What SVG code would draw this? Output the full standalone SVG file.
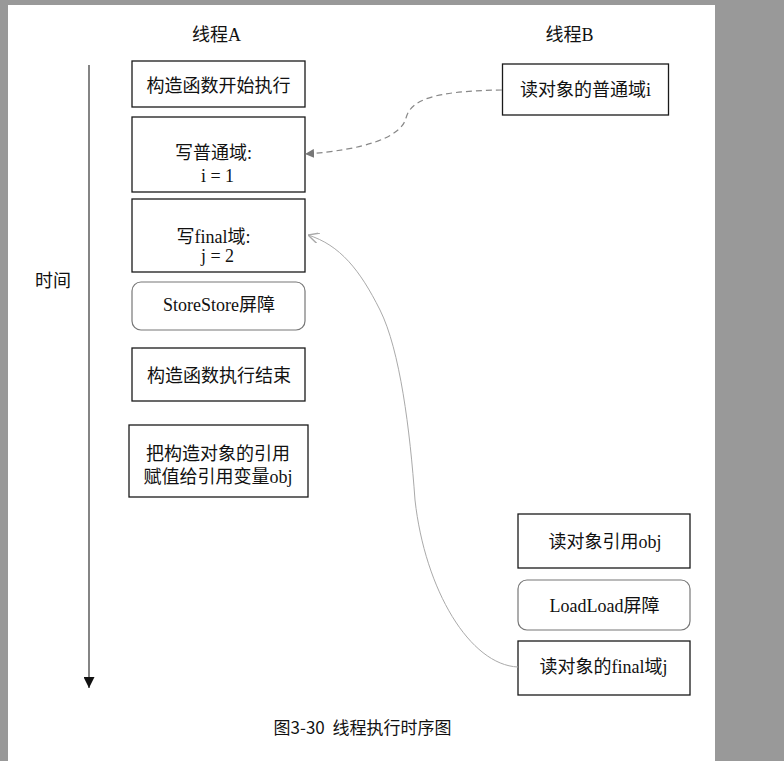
<svg xmlns="http://www.w3.org/2000/svg" width="784" height="761" viewBox="0 0 784 761">
<style>
.t{font-family:"Liberation Serif","Noto Sans CJK SC",serif;font-size:18px;fill:#111;text-anchor:middle}
.cap{font-family:"Noto Sans CJK SC","Liberation Sans",sans-serif;font-size:17px;fill:#111;text-anchor:middle;white-space:pre}
.box{fill:#fff;stroke:#1a1a1a;stroke-width:1.3}
.rbox{fill:#fff;stroke:#777;stroke-width:1.2}
</style>
<defs>
<marker id="tri" viewBox="0 0 10 10" refX="9" refY="5" markerWidth="9" markerHeight="9" markerUnits="userSpaceOnUse" orient="auto"><path d="M0,0 L10,5 L0,10 z" fill="#777"/></marker>
<marker id="vee" viewBox="0 0 10 10" refX="10" refY="5" markerWidth="11" markerHeight="11" markerUnits="userSpaceOnUse" orient="auto"><path d="M0,0 L10,5 L0,10" fill="none" stroke="#aaa" stroke-width="1.3"/></marker>
<marker id="down" viewBox="0 0 10 10" refX="10" refY="5" markerWidth="11" markerHeight="11" markerUnits="userSpaceOnUse" orient="auto"><path d="M0,0 L10,5 L0,10 z" fill="#111"/></marker>
</defs>
<rect x="0" y="0" width="784" height="761" fill="#999"/>
<rect x="8" y="5" width="707" height="756" fill="#fff"/>

<g id="headers">
<text class="t" x="216.5" y="41">线程A</text>
<text class="t" x="569.5" y="41">线程B</text>
<text class="t" x="53" y="287">时间</text>
</g>

<g id="timeline">
<line x1="89" y1="65" x2="89" y2="688" stroke="#333" stroke-width="1.2" marker-end="url(#down)"/>
</g>

<g id="a1"><rect class="box" x="132" y="61" width="173" height="46"/><text class="t" x="218.5" y="92">构造函数开始执行</text></g>
<g id="a2"><rect class="box" x="132" y="117" width="173" height="75"/><text class="t" x="213.5" y="159">写普通域:</text><text class="t" x="217.5" y="182">i = 1</text></g>
<g id="a3"><rect class="box" x="132" y="199" width="173" height="73"/><text class="t" x="213.5" y="243">写final域:</text><text class="t" x="217.5" y="262">j = 2</text></g>
<g id="a4"><rect class="rbox" x="132" y="282" width="173" height="48" rx="9"/><text class="t" x="219" y="311">StoreStore屏障</text></g>
<g id="a5"><rect class="box" x="132" y="348" width="173" height="53"/><text class="t" x="219" y="382">构造函数执行结束</text></g>
<g id="a6"><rect class="box" x="129" y="425" width="179" height="72"/><text class="t" x="218" y="460">把构造对象的引用</text><text class="t" x="218" y="483">赋值给引用变量obj</text></g>

<g id="b1"><rect class="box" x="502.5" y="64" width="166" height="51"/><text class="t" x="585.5" y="96">读对象的普通域i</text></g>
<g id="b2"><rect class="box" x="518" y="514" width="172" height="54"/><text class="t" x="605" y="548">读对象引用obj</text></g>
<g id="b3"><rect class="rbox" x="518" y="580" width="172" height="50" rx="9"/><text class="t" x="604.5" y="612">LoadLoad屏障</text></g>
<g id="b4"><rect class="box" x="518" y="641" width="172" height="54"/><text class="t" x="603.5" y="673">读对象的final域j</text></g>

<g id="connectors">
<path d="M502,90 C432,91 411,100 406,118 C401,138 362,150 306,154" fill="none" stroke="#888" stroke-width="1.2" stroke-dasharray="6,4" marker-end="url(#tri)"/>
<path d="M518,667 C470,665 425,590 415,500 C410,430 400,350 380,310 C360,270 340,245 308,235" fill="none" stroke="#aaa" stroke-width="1" marker-end="url(#vee)"/>
</g>

<g id="caption">
<text class="cap" x="362.5" y="734" xml:space="preserve">图3-30  线程执行时序图</text>
</g>
</svg>
